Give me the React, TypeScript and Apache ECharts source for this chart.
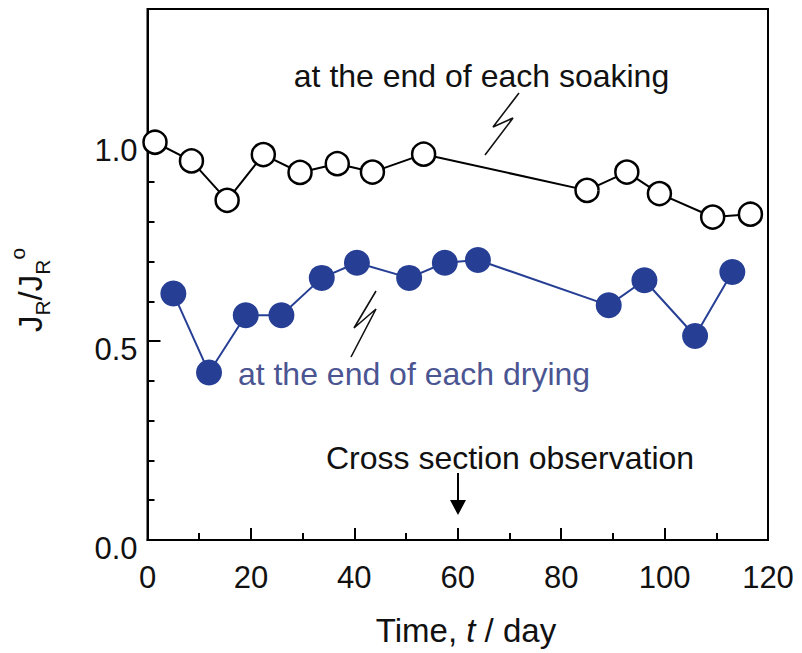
import React, { useEffect, useRef } from "react";
import * as echarts from "echarts";

const timeSoak = [1.45, 8.5, 15.4, 22.4, 29.5, 36.7, 43.5, 53.4, 85.0, 92.7, 99.0, 109.3, 116.6];
const valSoak = [1.0, 0.953, 0.854, 0.969, 0.924, 0.946, 0.925, 0.97, 0.879, 0.925, 0.871, 0.812, 0.819];
const timeDry = [5.0, 11.9, 19.0, 25.9, 33.7, 40.5, 50.6, 57.5, 63.9, 89.2, 96.1, 105.9, 113.1];
const valDry = [0.62, 0.421, 0.565, 0.565, 0.659, 0.697, 0.659, 0.697, 0.704, 0.59, 0.653, 0.513, 0.674];
const yMajorTicks = [0, 0.5, 1.0];
const yMinorTicks = [0.1, 0.2, 0.3, 0.4, 0.6, 0.7, 0.8, 0.9];
const xTickLabels = [0, 20, 40, 60, 80, 100, 120];

const FONT = "'Liberation Sans', Arial, Helvetica, sans-serif";
const BLUE = "#263f95";

export default function App() {
  const ref = useRef<HTMLDivElement>(null);
  useEffect(() => {
    if (!ref.current) return;
    const chart = echarts.init(ref.current, null, { renderer: "svg" });
    const option: any = {
      animation: false,
      backgroundColor: "#fff",
      textStyle: { fontFamily: FONT },
      grid: {
        left: 147.5,
        right: 34,
        top: 9,
        bottom: 113,
        show: true,
        borderColor: "#000",
        borderWidth: 2,
        containLabel: false,
      },
      xAxis: {
        type: "value",
        min: 0,
        max: 120,
        interval: 20,
        axisLine: { show: true, onZero: false, lineStyle: { color: "#000", width: 2 } },
        axisTick: { show: true, inside: true, length: 12, lineStyle: { color: "#000", width: 2 } },
        minorTick: { show: true, splitNumber: 2, length: 7, lineStyle: { color: "#000", width: 2 } },
        splitLine: { show: false },
        axisLabel: {
          color: "#111",
          fontSize: 31,
          fontFamily: FONT,
          margin: 22,
          customValues: xTickLabels,
        },
      },
      yAxis: [
        {
          type: "value",
          min: 0,
          max: 1.335,
          interval: 0.5,
          position: "left",
          axisLine: { show: true, onZero: false, lineStyle: { color: "#000", width: 2 } },
          axisTick: {
            show: true,
            inside: true,
            length: 13,
            customValues: yMajorTicks,
            lineStyle: { color: "#000", width: 2 },
          },
          splitLine: { show: false },
          axisLabel: {
            margin: 10,
            customValues: yMajorTicks,
            formatter: (v: number) => "{a|" + v.toFixed(1) + "}",
            rich: {
              a: {
                color: "#111",
                fontSize: 31,
                fontFamily: FONT,
                padding: [16, 0, 0, 0],
              },
            },
          },
        },
        {
          type: "value",
          min: 0,
          max: 1.335,
          interval: 0.5,
          position: "left",
          axisLine: { show: false },
          axisTick: {
            show: true,
            inside: true,
            length: 7,
            customValues: yMinorTicks,
            lineStyle: { color: "#000", width: 2 },
          },
          splitLine: { show: false },
          axisLabel: { show: false },
        },
      ],
      series: [
        {
          name: "soaking",
          type: "line",
          data: timeSoak.map((t, i) => [t, valSoak[i]]),
          symbol: "circle",
          symbolSize: 23,
          lineStyle: { color: "#000", width: 2 },
          itemStyle: { color: "#fff", borderColor: "#000", borderWidth: 2.5 },
          z: 3,
        },
        {
          name: "drying",
          type: "line",
          data: timeDry.map((t, i) => [t, valDry[i]]),
          symbol: "circle",
          symbolSize: 26,
          lineStyle: { color: BLUE, width: 2 },
          itemStyle: { color: BLUE, borderColor: BLUE, borderWidth: 0 },
          z: 3,
        },
      ],
      graphic: [
        {
          type: "text",
          x: 481.5,
          y: 76,
          style: {
            text: "at the end of each soaking",
            font: `32px ${FONT}`,
            fill: "#111",
            align: "center",
            verticalAlign: "middle",
          },
        },
        {
          type: "polyline",
          shape: { points: [[519, 93], [493, 127], [513, 118], [485, 155]] },
          style: { stroke: "#111", lineWidth: 1.6, fill: "none" },
        },
        {
          type: "text",
          x: 414,
          y: 374,
          style: {
            text: "at the end of each drying",
            font: `32px ${FONT}`,
            fill: "#4b5592",
            align: "center",
            verticalAlign: "middle",
          },
        },
        {
          type: "polyline",
          shape: { points: [[376, 291], [354, 328], [376, 309], [351, 357]] },
          style: { stroke: "#111", lineWidth: 1.6, fill: "none" },
        },
        {
          type: "text",
          x: 510,
          y: 458,
          style: {
            text: "Cross section observation",
            font: `32px ${FONT}`,
            fill: "#111",
            align: "center",
            verticalAlign: "middle",
          },
        },
        {
          type: "line",
          shape: { x1: 458, y1: 473, x2: 458, y2: 502 },
          style: { stroke: "#000", lineWidth: 2 },
        },
        {
          type: "polygon",
          shape: { points: [[450, 500], [466, 500], [458, 515]] },
          style: { fill: "#000" },
        },
        {
          type: "text",
          x: 466,
          y: 630,
          style: {
            text: "{n|Time, }{i|t}{n| / day}",
            rich: {
              n: { font: `33px ${FONT}`, fill: "#111" },
              i: { font: `italic 33px ${FONT}`, fill: "#111" },
            },
            align: "center",
            verticalAlign: "middle",
          },
        },
        {
          type: "text",
          x: 30,
          y: 290,
          rotation: Math.PI / 2,
          style: {
            text: "{j|J}{sub|R}{j|/J}{sub|R}{sup|o}",
            rich: {
              j: { font: `33px ${FONT}`, fill: "#111", lineHeight: 46, verticalAlign: "middle" },
              sub: { font: `21px ${FONT}`, fill: "#111", lineHeight: 21, verticalAlign: "bottom" },
              sup: { font: `21px ${FONT}`, fill: "#111", lineHeight: 21, verticalAlign: "top" },
            },
            align: "center",
            verticalAlign: "middle",
          },
        },
      ],
    };
    chart.setOption(option);
    return () => chart.dispose();
  }, []);
  return (
    <div
      ref={ref}
      style={{ position: "fixed", left: 0, top: 0, width: 802, height: 653, background: "#fff" }}
    />
  );
}
